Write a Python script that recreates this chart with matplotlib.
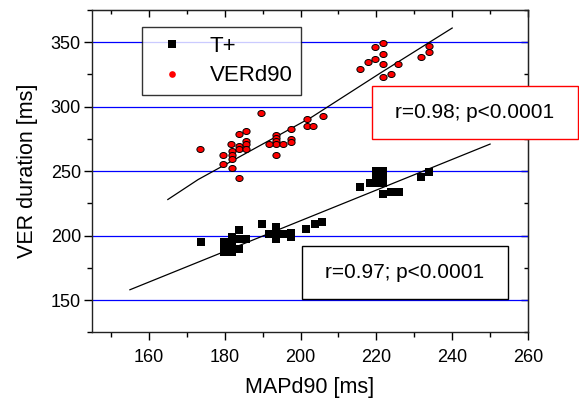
import numpy as np
import matplotlib
matplotlib.use("Agg")
import matplotlib.pyplot as plt
from matplotlib.lines import Line2D
from matplotlib.patches import Rectangle
from matplotlib.ticker import MultipleLocator
from matplotlib.path import Path

plt.rcParams['font.family'] = ['Liberation Sans', 'DejaVu Sans']

# ---- data ----
tplus_x = [173.7, 179.8, 179.8, 179.8, 181.8, 181.8, 181.8, 181.8, 183.8, 183.8, 183.8,
           185.7, 189.9, 191.8, 193.6, 193.6, 193.6, 195.5, 197.5, 197.5, 201.5, 203.7,
           205.7, 215.8, 218.2, 219.9, 219.9, 219.9, 221.8, 221.8, 221.8, 221.8, 223.9,
           225.9, 231.7, 233.8]
tplus_y = [194.7, 194.7, 190.8, 187.0, 198.6, 194.7, 190.8, 187.0, 204.4, 197.3, 189.5,
           197.3, 208.8, 201.1, 206.3, 201.1, 197.3, 201.1, 202.4, 198.6, 205.0, 208.8,
           210.6, 238.0, 241.0, 250.0, 245.0, 241.0, 250.0, 245.0, 241.0, 232.6, 234.0,
           234.0, 245.7, 249.6]

verd_x = [173.6, 179.6, 179.6, 181.8, 181.8, 181.8, 181.8, 181.7, 183.7, 183.7, 183.7,
          183.7, 185.7, 185.7, 185.7, 185.7, 189.7, 193.6, 193.6, 193.6, 193.6, 191.7,
          195.5, 193.6, 197.6, 197.6, 197.6, 201.7, 201.7, 203.4, 205.8, 215.7, 217.7,
          219.7, 219.7, 221.8, 221.8, 221.8, 221.8, 223.8, 225.7, 231.7, 233.8, 233.8]
verd_y = [266.8, 262.9, 255.2, 265.5, 262.9, 259.1, 252.7, 271.2, 279.2, 269.2, 266.8,
          244.9, 281.0, 273.2, 270.7, 266.8, 295.2, 278.4, 275.9, 273.2, 270.7, 271.2,
          271.2, 262.9, 283.0, 275.0, 272.8, 290.8, 285.4, 285.4, 293.1, 329.2, 334.8,
          336.9, 346.6, 349.2, 341.0, 333.3, 323.0, 325.5, 333.0, 338.9, 347.2, 342.8]

tplus_fit_x = [155, 250]
tplus_fit_y = [158, 271]
verd_fit_x = [165, 173, 203, 221, 240]
verd_fit_y = [228, 243.5, 292, 326, 361]

grid_levels = [150, 200, 250, 300, 350]
labels = ["T+", "VERd90"]
stats = ["r=0.98; p<0.0001", "r=0.97; p<0.0001"]

# ---- figure ----
W, H = 579, 398
fig = plt.figure(figsize=(W / 100, H / 100), dpi=100)
ax = fig.add_axes([92 / W, 1 - 332.3 / H, (528 - 92) / W, (332.3 - 10) / H])

ax.set_xlim(145, 260)
ax.set_ylim(125, 375)

for g in grid_levels:
    ax.axhline(g, color='#0000ff', lw=0.9, zorder=1)

t = np.linspace(0, 2 * np.pi, 40)
ell = Path(np.column_stack([1.2 * np.cos(t), np.sin(t)]))

ax.plot(tplus_fit_x, tplus_fit_y, color='black', lw=0.9, zorder=2)
ax.plot(verd_fit_x, verd_fit_y, color='black', lw=0.9, zorder=2)
ax.plot(tplus_x, tplus_y, ls='none', marker='s', ms=5.3, color='black', mew=0, zorder=3)
ax.plot(verd_x, verd_y, ls='none', marker=ell, ms=5.2, mfc='#ff0000', mec='black',
        mew=0.7, zorder=3)

ax.xaxis.set_major_locator(MultipleLocator(20))
ax.xaxis.set_minor_locator(MultipleLocator(10))
ax.yaxis.set_major_locator(MultipleLocator(50))
ax.yaxis.set_minor_locator(MultipleLocator(25))
ax.tick_params(which='major', direction='out', length=6, width=1, labelsize=13, pad=2)
ax.tick_params(which='minor', direction='out', length=3.5, width=1)
ax.tick_params(axis='x', which='major', pad=6)
for s in ax.spines.values():
    s.set_linewidth(1.0)
    s.set_color('#222222')

sx = ax.secondary_xaxis('top')
sx.xaxis.set_major_locator(MultipleLocator(20))
sx.xaxis.set_minor_locator(MultipleLocator(10))
sx.tick_params(which='major', direction='in', length=5, width=1, labeltop=False)
sx.tick_params(which='minor', direction='in', length=3, width=1)
sy = ax.secondary_yaxis('right')
sy.yaxis.set_major_locator(MultipleLocator(50))
sy.yaxis.set_minor_locator(MultipleLocator(25))
sy.tick_params(which='major', direction='in', length=5, width=1, labelright=False)
sy.tick_params(which='minor', direction='in', length=3, width=1)

ax.set_xlabel("MAPd90 [ms]", fontsize=15.5, labelpad=8)
ax.set_ylabel("VER duration [ms]", fontsize=15.5, labelpad=9)

handles = [Line2D([], [], ls='none', marker='s', ms=5.3, color='black', mew=0),
           Line2D([], [], ls='none', marker='o', ms=4.8, color='#ff0000', mew=0)]
leg = ax.legend(handles, labels, loc='upper left',
                bbox_to_anchor=(141.7 / W, 1 - 26.7 / H), bbox_transform=fig.transFigure,
                fontsize=16, frameon=True, fancybox=False, borderpad=0.4,
                handlelength=1.9, handletextpad=0.75, labelspacing=0.4,
                borderaxespad=0)
leg.get_frame().set_edgecolor('black')
leg.get_frame().set_linewidth(1.0)
leg.set_zorder(5)

# stat boxes
boxes = [(372, 86, 578, 139, '#ff0000'), (302, 246, 508, 299, 'black')]
for (x0, y0, x1, y1, ec), txt in zip(boxes, stats):
    r = Rectangle((x0 / W, 1 - y1 / H), (x1 - x0) / W, (y1 - y0) / H,
                  transform=fig.transFigure, facecolor='white', edgecolor=ec,
                  lw=1.0, zorder=10)
    fig.add_artist(r)
    fig.text((x0 + x1) / 2 / W, 1 - (y0 + y1) / 2 / H, txt, ha='center', va='center',
             fontsize=15, zorder=11)

fig.savefig("out.png", dpi=100)
